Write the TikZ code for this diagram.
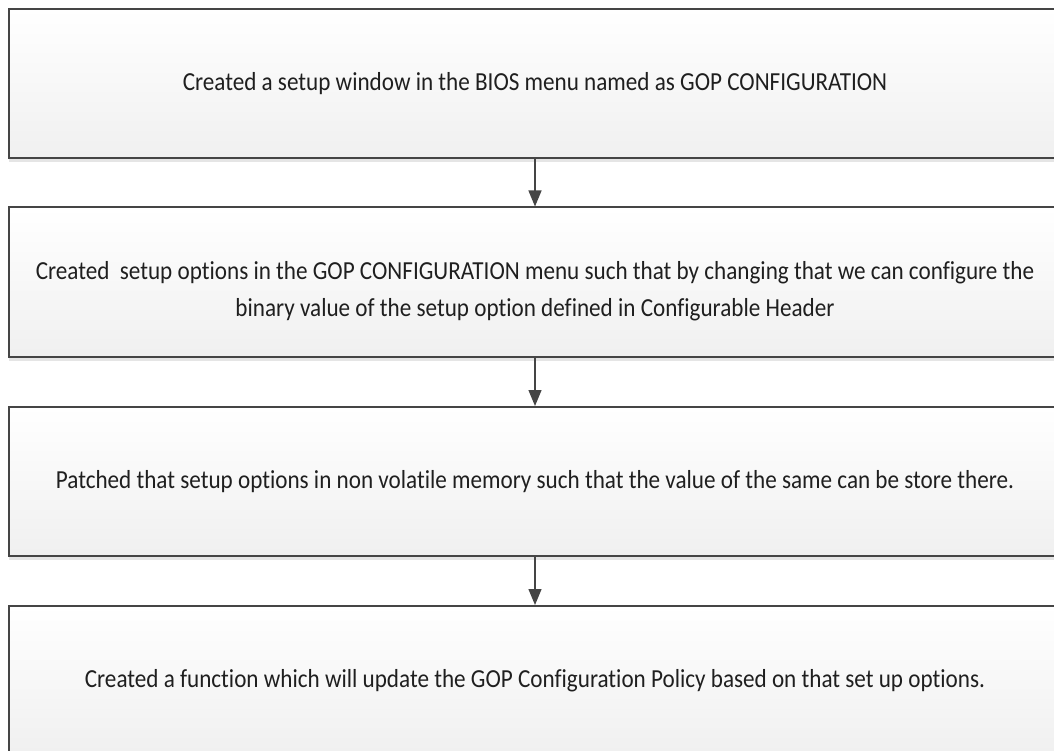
\documentclass[tikz,border=0pt]{standalone}
\usepackage{fontspec}
\setmainfont[FakeStretch=0.89,Ligatures=NoCommon]{Carlito}
\usetikzlibrary{arrows.meta,shadows}
\definecolor{edge}{HTML}{454545}
\tikzset{
  flowbox/.style={draw=edge, line width=2pt, rectangle, top color=white, bottom color=black!6,
    minimum width=1052pt, minimum height=149pt, inner sep=0pt, align=center,
    font=\fontsize{26}{37}\selectfont, text=black!88,
    drop shadow={shadow xshift=0pt, shadow yshift=-4pt, opacity=0.25, fill=black!40}},
  flowarrow/.style={draw=edge, line width=1.3pt, -{Triangle[length=16pt,width=13pt]}}
}
\begin{document}
\begin{tikzpicture}[x=1pt,y=-1pt]
\useasboundingbox (0,0) rectangle (1054,751);
\clip (0,0) rectangle (1054,751);
\fill[white] (0,0) rectangle (1054,751);
\node[flowbox] (b1) at (535,83.5) {Created a setup window in the BIOS menu named as GOP CONFIGURATION};
\node[flowbox] (b2) at (535,282) {\mbox{}\\Created\ \ setup options in the GOP CONFIGURATION menu such that by changing that we can configure the\\binary value of the setup option defined in Configurable Header};
\node[flowbox] (b3) at (535,481.5) {Patched that setup options in non volatile memory such that the value of the same can be store there.};
\node[flowbox] (b4) at (535,680.5) {Created a function which will update the GOP Configuration Policy based on that set up options.};
\draw[flowarrow] (b1.south) -- (b2.north);
\draw[flowarrow] (b2.south) -- (b3.north);
\draw[flowarrow] (b3.south) -- (b4.north);
\end{tikzpicture}
\end{document}
